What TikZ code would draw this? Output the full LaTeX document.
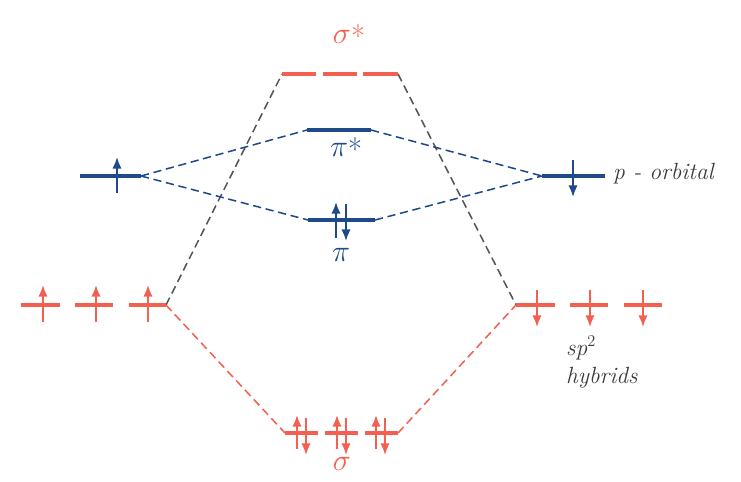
\RequirePackage{fix-cm}
\documentclass[tikz,border=0pt]{standalone}
\usepackage{tikz}
\usetikzlibrary{arrows.meta}
\definecolor{hyb}{HTML}{F4604F}
\definecolor{pbl}{HTML}{1F4A8A}
\definecolor{mix}{HTML}{555555}
\definecolor{lbl}{HTML}{3A3A3A}

\begin{document}
\begin{tikzpicture}[x=0.03cm,y=-0.03cm,
    level/.style={line width=2.8pt},
    spinup/.style={line width=1.5pt,-{Latex[length=10pt,width=8pt]}},
    link/.style={line width=1.3pt,dash pattern=on 7pt off 4pt},
    greek/.style={font=\fontsize{26}{30}\selectfont},
    every node/.style={font=\fontsize{20}{24}\selectfont\itshape}]
    \useasboundingbox (0,0) rectangle (741,481);

    % level ends
    \coordinate (ss-l) at (282,74);  \coordinate (ss-r) at (398,74);
    \coordinate (ps-l) at (307,130); \coordinate (ps-r) at (371,130);
    \coordinate (pi-l) at (308,220); \coordinate (pi-r) at (375,220);
    \coordinate (pL-l) at (80,176);  \coordinate (pL-r) at (141,176);
    \coordinate (pR-l) at (542,176); \coordinate (pR-r) at (605,176);
    \coordinate (hL-r) at (166,305); \coordinate (hR-l) at (516,305);
    \coordinate (sg-l) at (285,433); \coordinate (sg-r) at (398,433);

    % correlation lines
    \draw[link,mix] (hL-r) -- (ss-l);
    \draw[link,mix] (ss-r) -- (hR-l);
    \draw[link,pbl] (pL-r) -- (ps-l);
    \draw[link,pbl] (pL-r) -- (pi-l);
    \draw[link,pbl] (ps-r) -- (pR-l);
    \draw[link,pbl] (pi-r) -- (pR-l);
    \draw[link,hyb] (hL-r) -- (sg-l);
    \draw[link,hyb] (sg-r) -- (hR-l);

    % p orbitals and pi levels
    \draw[level,pbl] (pL-l) -- (pL-r);
    \draw[spinup,pbl] (117,193) -- (117,157);
    \draw[level,pbl] (pR-l) -- (pR-r);
    \draw[spinup,pbl] (573,160) -- (573,197);
    \draw[level,pbl] (ps-l) -- (ps-r);
    \draw[level,pbl] (pi-l) -- (pi-r);
    \draw[spinup,pbl] (336,238) -- (336,202);
    \draw[spinup,pbl] (346,204) -- (346,241);

    % sp2 hybrids
    \foreach \a/\b/\e in {21/60/43, 75/113/96, 129/166/148} {
      \draw[level,hyb] (\a,305) -- (\b,305);
      \draw[spinup,hyb] (\e,322) -- (\e,285);
    }
    \foreach \a/\b/\e in {516/555/537, 570/608/590, 624/662/643} {
      \draw[level,hyb] (\a,305) -- (\b,305);
      \draw[spinup,hyb] (\e,290) -- (\e,327);
    }

    % sigma and sigma*
    \foreach \a/\b in {282/316, 323/357, 363/398}
      \draw[level,hyb] (\a,74) -- (\b,74);
    \foreach \a/\b/\e in {285/318/297, 325/358/337, 365/398/376} {
      \draw[level,hyb] (\a,433) -- (\b,433);
      \draw[spinup,hyb] (\e,449) -- (\e,415);
      \draw[spinup,hyb] (\e+9,418) -- (\e+9,455);
    }

    % labels
    \node[hyb,greek] (sstar) at (349,36) {$\sigma$\raisebox{-3pt}{*}};
    \node[pbl,greek] (pistar) at (346,149) {$\pi$\raisebox{-3pt}{*}};
    \node[pbl,greek] (pilab) at (341,255) {$\pi$};
    \node[hyb,greek] (siglab) at (342,464) {$\sigma$};
    \node[lbl,anchor=west] (plab) at (609,174) {p - orbital};
    \node[lbl,anchor=north west,align=left,inner sep=0pt] (hlab) at (566,336)
      {sp$^2$\\hybrids};
\end{tikzpicture}
\end{document}
